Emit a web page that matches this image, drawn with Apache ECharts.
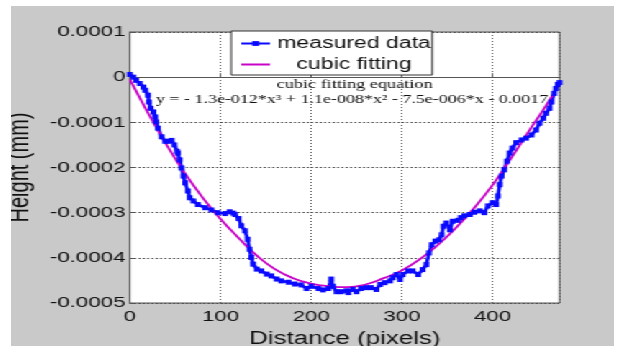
<!DOCTYPE html>
<html>
<head>
<meta charset="utf-8">
<title>Height profile</title>
<script src="https://cdn.jsdelivr.net/npm/echarts@6/dist/echarts.min.js"></script>
<style>
  html, body { margin: 0; padding: 0; background: #fff; }
  /* the source figure is stretched horizontally, so the chart is drawn narrow and scaled */
  #chart {
    position: absolute; left: 11px; top: 6px;
    width: 419px; height: 340px;
    background: #c9c9c9;
    transform: scaleX(1.4391); transform-origin: 0 0;
  }
</style>
</head>
<body>
<div id="chart"></div>
<script>
// measured profile (distance in pixels, height in mm)
const measuredX = [0,4,7,11,15,17,20,21,23,26, 28,29,31,35,39,42,46,49,52,53,
  55,57,59,61,64,66,70,75,83,90, 97,105,110,114,116,120,123,127,130,132,
  134,136,140,145,151,156,162,167,175,182, 189,195,200,208,213,219,222,224,228,233,
  239,241,246,250,255,261,266,272,276,281, 287,290,294,298,301,307,312,318,323,327,
  330,333,337,341,344,346,349,353,356,362, 365,369,375,380,386,391,395,400,404,406,
  408,410,413,416,419,422,426,432,437,443, 448,452,456,459,463,465,468,470,472,474]
const measuredY = [0.06e-4,0,-0.07e-4,-0.14e-4,-0.22e-4,-0.29e-4,-0.40e-4,-0.55e-4,-0.69e-4,-0.77e-4,
  -0.88e-4,-0.99e-4,-1.13e-4,-1.32e-4,-1.42e-4,-1.42e-4,-1.40e-4,-1.50e-4,-1.64e-4,-1.68e-4,
  -1.83e-4,-2.01e-4,-2.19e-4,-2.34e-4,-2.52e-4,-2.67e-4,-2.74e-4,-2.82e-4,-2.89e-4,-2.94e-4,
  -3.00e-4,-3.02e-4,-2.98e-4,-3.01e-4,-3.04e-4,-3.13e-4,-3.29e-4,-3.40e-4,-3.59e-4,-3.81e-4,
  -3.99e-4,-4.14e-4,-4.25e-4,-4.29e-4,-4.36e-4,-4.40e-4,-4.47e-4,-4.51e-4,-4.54e-4,-4.58e-4,
  -4.60e-4,-4.68e-4,-4.63e-4,-4.68e-4,-4.71e-4,-4.68e-4,-4.47e-4,-4.63e-4,-4.75e-4,-4.75e-4,
  -4.73e-4,-4.77e-4,-4.70e-4,-4.75e-4,-4.68e-4,-4.66e-4,-4.66e-4,-4.70e-4,-4.59e-4,-4.55e-4,
  -4.51e-4,-4.44e-4,-4.37e-4,-4.48e-4,-4.37e-4,-4.29e-4,-4.29e-4,-4.37e-4,-4.26e-4,-4.15e-4,
  -3.89e-4,-3.71e-4,-3.63e-4,-3.60e-4,-3.49e-4,-3.30e-4,-3.23e-4,-3.38e-4,-3.19e-4,-3.17e-4,
  -3.11e-4,-3.07e-4,-3.04e-4,-2.99e-4,-2.96e-4,-3.00e-4,-2.85e-4,-2.78e-4,-2.82e-4,-2.63e-4,
  -2.38e-4,-2.19e-4,-2.05e-4,-1.86e-4,-1.68e-4,-1.57e-4,-1.45e-4,-1.39e-4,-1.35e-4,-1.28e-4,
  -1.17e-4,-1.02e-4,-0.91e-4,-0.80e-4,-0.69e-4,-0.55e-4,-0.36e-4,-0.25e-4,-0.16e-4,-0.12e-4]

// cubic fit
const fitX = [0,20,40,60,80,100,120,140,160,180,200,220,240,260,280,300,320,340,360,380,400,420,440,460,474]
const fitY = [-0.05e-4,-0.79e-4,-1.48e-4,-2.11e-4,-2.66e-4,-3.14e-4,-3.56e-4,-3.95e-4,-4.25e-4,-4.45e-4,
  -4.57e-4,-4.63e-4,-4.65e-4,-4.59e-4,-4.45e-4,-4.28e-4,-4.03e-4,-3.71e-4,-3.33e-4,-2.89e-4,
  -2.39e-4,-1.81e-4,-1.20e-4,-0.60e-4,-0.14e-4]

const xTicks = [0, 100, 200, 300, 400]
const yTicks = ['0.0001', '0', '-0.0001', '-0.0002', '-0.0003', '-0.0004', '-0.0005']
const xMax = 474

const eqTitle = 'cubic fitting equation'
const eqText = 'y = - 1.3e-012*x³ + 1.1e-008*x² - 7.5e-006*x - 0.0017'

const font = 'Liberation Sans'
const ec = echarts.init(document.getElementById('chart'))

ec.setOption({
    animation: false,
    grid: { left: 82.6, right: 37.8, top: 26, bottom: 43, outerBoundsMode: 'none',
        show: true, backgroundColor: '#fff', borderColor: '#555', borderWidth: 1 },
    legend: {
        left: 153, top: 25, orient: 'vertical',
        backgroundColor: '#fff', borderColor: '#333', borderWidth: 1,
        padding: [4, 1, 2, 6], itemGap: 4, itemWidth: 20, itemHeight: 6,
        data: ['measured data', { name: 'cubic fitting', itemStyle: { opacity: 0 } }],
        formatter: name => name === 'cubic fitting' ? '   ' + name : name,
        textStyle: { fontFamily: font, fontSize: 16, color: '#111', lineHeight: 17 }
    },
    xAxis: {
        type: 'value', min: 0, max: xMax, interval: 100,
        name: 'Distance (pixels)', nameLocation: 'middle', nameGap: 27,
        nameTextStyle: { fontFamily: font, fontSize: 18, color: '#111' },
        axisLine: { lineStyle: { color: '#555' } },
        axisTick: { inside: true, length: 4, lineStyle: { color: '#555' } },
        axisLabel: { fontFamily: font, fontSize: 15.5, color: '#111', margin: 6, showMaxLabel: false,
            formatter: v => xTicks.includes(v) ? String(v) : '' },
        splitLine: { lineStyle: { color: '#555', type: [1, 2] } }
    },
    yAxis: {
        type: 'value', min: -0.0005, max: 0.0001, interval: 0.0001,
        name: 'Height (mm)', nameLocation: 'middle', nameGap: 59,
        nameTextStyle: { fontFamily: font, fontSize: 20, color: '#111' },
        axisLine: { show: true, lineStyle: { color: '#555' } },
        axisTick: { show: true, inside: true, length: 4, lineStyle: { color: '#555' } },
        axisLabel: { fontFamily: font, fontSize: 15.5, color: '#111', margin: 3,
            formatter: v => yTicks.find(t => Math.abs(Number(t) - v) < 1e-9) || '' },
        splitLine: { lineStyle: { color: '#444', type: [1.4, 1.6] } }
    },
    series: [
        {
            name: 'measured data', type: 'line',
            data: measuredX.map((x, i) => [x, measuredY[i]]),
            symbol: 'rect', symbolSize: [4, 5], showSymbol: true,
            lineStyle: { width: 2.6, color: '#0a0aff' },
            itemStyle: { color: '#0a0aff' }
        },
        {
            name: 'cubic fitting', type: 'line', smooth: true,
            data: fitX.map((x, i) => [x, fitY[i]]),
            symbol: 'none',
            lineStyle: { width: 1.8, color: '#c800c8' },
            itemStyle: { color: '#c800c8' },
            z: 3
        }
    ],
    graphic: [
        { type: 'text', left: 237.5 - 53, top: 72,
          style: { text: eqTitle, font: '12.7px "Liberation Serif"', fill: '#111' } },
        { type: 'text', left: 100.7, top: 87,
          style: { text: eqText, font: '12.5px "Liberation Serif"', fill: '#111' } }
    ]
})
</script>
</body>
</html>
